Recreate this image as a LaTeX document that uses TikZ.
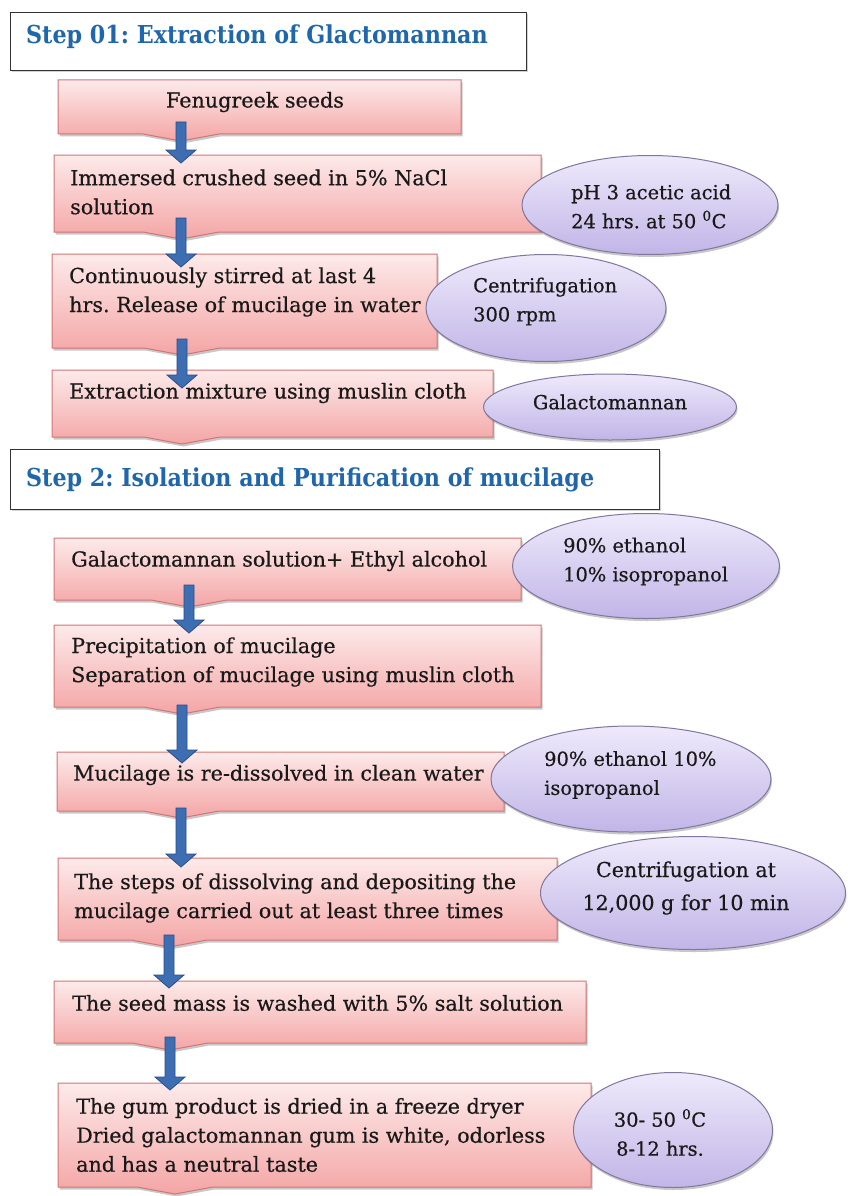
\documentclass[tikz,border=0pt]{standalone}
\usepackage{fontspec}
\setmainfont{DejaVu Serif}[FakeBold=0.5]
\newfontfamily\headfont{DejaVu Serif Bold}[FakeStretch=0.9]
\frenchspacing
\usetikzlibrary{shapes.geometric,shadows,calc}
\definecolor{pinkTop}{RGB}{253,234,234}
\definecolor{pinkBot}{RGB}{244,165,165}
\definecolor{pinkLine}{RGB}{208,118,118}
\definecolor{lavTop}{RGB}{238,234,251}
\definecolor{lavBot}{RGB}{193,181,231}
\definecolor{lavLine}{RGB}{128,118,158}
\definecolor{arrBlue}{RGB}{62,110,178}
\definecolor{arrLine}{RGB}{38,78,140}
\definecolor{headBlue}{RGB}{31,102,170}
\tikzset{
  boxshape/.style={draw=pinkLine, line width=1pt, top color=pinkTop, bottom color=pinkBot,
    drop shadow={shadow xshift=1.5pt, shadow yshift=-2.5pt, opacity=0.3, fill=black!70}},
  boxtext/.style={anchor=west, align=left, inner sep=0pt, text=black!90,
    font=\fontsize{20.7}{29}\selectfont},
  ellshape/.style={ellipse, draw=lavLine, line width=1pt, top color=lavTop, bottom color=lavBot,
    inner sep=0pt, drop shadow={shadow xshift=1pt, shadow yshift=-2.5pt, opacity=0.3, fill=black!70}},
  elltext/.style={anchor=west, align=left, inner sep=0pt, text=black!90,
    font=\fontsize{19.4}{29}\selectfont},
  headbox/.style={draw=black!80, line width=1.2pt, fill=white, anchor=north west,
    drop shadow={shadow xshift=1pt, shadow yshift=-1.5pt, opacity=0.25, fill=black!70}},
  headtext/.style={anchor=west, inner sep=0pt, text=headBlue,
    font=\headfont\fontsize{24.7}{28}\selectfont},
  blockarrow/.style={fill=arrBlue, draw=arrLine, line width=0.8pt, line join=miter}
}
\newcommand\pinkbox[5]{%
  \path[boxshape] (#1,#2) -- (#3,#2) -- (#3,#4) -- (#5+38,#4) -- (#5,#4+7) -- (#5-38,#4) -- (#1,#4) -- cycle;}
\newcommand\flowarrow[2]{%
  \path[blockarrow] ($(#1)+(-5,0)$) -- ($(#1)+(5,0)$) -- ($(#2)+(5,-13)$) -- ($(#2)+(15,-13)$)
    -- (#2) -- ($(#2)+(-15,-13)$) -- ($(#2)+(-5,-13)$) -- cycle;}
\begin{document}
\begin{tikzpicture}[x=1pt,y=-1pt]
\useasboundingbox[fill=white] (0,0) rectangle (848,1196);

% headers
\node[headbox, minimum width=516pt, minimum height=58pt] (h1) at (10,12) {};
\node[headtext] (h1t) at (26,37) {Step 01: Extraction of Glactomannan};
\node[headbox, minimum width=649pt, minimum height=60pt] (h2) at (10,449) {};
\node[headtext] (h2t) at (26,480) {Step 2: Isolation and Purification of mucilage};

% process boxes
\pinkbox{58}{80}{461}{134}{181}
\node[boxtext, anchor=center] (b1) at (255,102) {Fenugreek seeds};
\pinkbox{54}{155}{541}{232}{181}
\node[boxtext] (b2) at (70,192) {Immersed crushed seed in 5\% NaCl\\solution};
\pinkbox{52}{254}{437}{348}{182}
\node[boxtext] (b3) at (69,292) {Continuously stirred at last 4\\hrs. Release of mucilage in water};
\pinkbox{52}{370}{493}{437}{182}
\node[boxtext] (b4) at (69,393) {Extraction mixture using muslin cloth};
\pinkbox{54}{538}{521}{600}{189}
\node[boxtext] (b5) at (71,561) {Galactomannan solution+ Ethyl alcohol};
\pinkbox{54}{625}{541}{707}{182}
\node[boxtext] (b6) at (71,662) {Precipitation of mucilage\\Separation of mucilage using muslin cloth};
\pinkbox{57}{752}{504}{811}{181}
\node[boxtext] (b7) at (73,775) {Mucilage is re-dissolved in clean water};
\pinkbox{58}{858}{557}{940}{169}
\node[boxtext] (b8) at (74,898) {The steps of dissolving and depositing the\\mucilage carried out at least three times};
\pinkbox{54}{981}{586}{1043}{170}
\node[boxtext] (b9) at (72,1003) {The seed mass is washed with 5\% salt solution};
\pinkbox{58}{1083}{591}{1187}{175}
\node[boxtext] (b10) at (76,1135) {The gum product is dried in a freeze dryer\\Dried galactomannan gum is white, odorless\\and has a neutral taste};

% arrows
\coordinate (a1s) at (181,122); \coordinate (a1t) at (181,163);
\coordinate (a2s) at (181,218); \coordinate (a2t) at (181,267);
\coordinate (a3s) at (182,339); \coordinate (a3t) at (182,388);
\coordinate (a4s) at (189,585); \coordinate (a4t) at (189,633);
\coordinate (a5s) at (182,705); \coordinate (a5t) at (182,763);
\coordinate (a6s) at (181,808); \coordinate (a6t) at (181,867);
\coordinate (a7s) at (169,935); \coordinate (a7t) at (169,988);
\coordinate (a8s) at (170,1037); \coordinate (a8t) at (170,1090);
\flowarrow{a1s}{a1t}
\flowarrow{a2s}{a2t}
\flowarrow{a3s}{a3t}
\flowarrow{a4s}{a4t}
\flowarrow{a5s}{a5t}
\flowarrow{a6s}{a6t}
\flowarrow{a7s}{a7t}
\flowarrow{a8s}{a8t}

% condition ellipses
\node[ellshape, minimum width=256pt, minimum height=99pt] (e1) at (650,205) {};
\node[elltext] (e1t) at (571,206.5) {pH 3 acetic acid\\24 hrs. at 50 \textsuperscript{0}C};
\node[ellshape, minimum width=240pt, minimum height=107pt] (e2) at (546,308) {};
\node[elltext] (e2t) at (473,301.5) {Centrifugation\\300 rpm};
\node[ellshape, minimum width=253pt, minimum height=66pt] (e3) at (610,407) {};
\node[elltext, anchor=center] (e3t) at (610,402) {Galactomannan};
\node[ellshape, minimum width=267pt, minimum height=105pt] (e4) at (646,566) {};
\node[elltext] (e4t) at (563,561.5) {90\% ethanol\\10\% isopropanol};
\node[ellshape, minimum width=280pt, minimum height=106pt] (e5) at (631,779) {};
\node[elltext] (e5t) at (544,775) {90\% ethanol 10\%\\isopropanol};
\node[ellshape, minimum width=305pt, minimum height=113pt] (e6) at (693,893) {};
\node[elltext, anchor=center, align=center, font=\fontsize{20.6}{33}\selectfont] (e6t) at (686,888) {Centrifugation at\\12,000 g for 10 min};
\node[ellshape, minimum width=199pt, minimum height=115pt] (e7) at (673,1130) {};
\node[elltext, anchor=center, align=center] (e7t) at (660,1132.5) {30- 50 \textsuperscript{0}C\\8-12 hrs.};
\end{tikzpicture}
\end{document}
